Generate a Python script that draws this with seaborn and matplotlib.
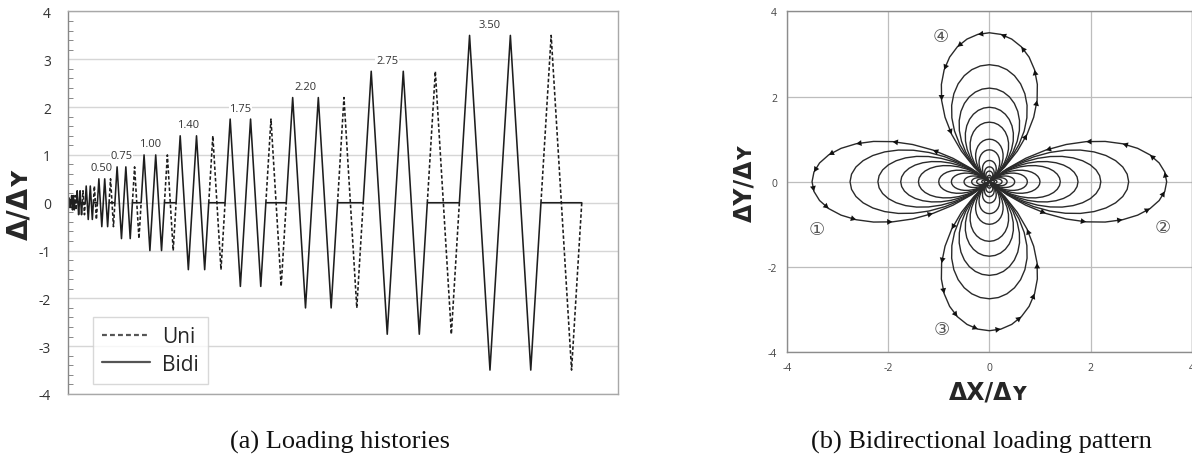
import numpy as np
import pandas as pd
import matplotlib
matplotlib.use("Agg")
import matplotlib.pyplot as plt
from matplotlib.ticker import MultipleLocator
import seaborn as sns

# ---------------- data ----------------
amplitudes = [0.10, 0.15, 0.25, 0.35, 0.50, 0.75, 1.00, 1.40, 1.75, 2.20, 2.75, 3.50]
amp_labels = ["", "", "", "", "0.50", "0.75", "1.00", "1.40", "1.75", "2.20", "2.75", "3.50"]
bidi_cycles = 2          # bidirectional cycles per level
uni_cycles = 1           # unidirectional cycles per level (during the bidi pause)
y_ticks_left = [-4, -3, -2, -1, 0, 1, 2, 3, 4]
ticks_right = [-4, -2, 0, 2, 4]
petal_names = ["①", "②", "③", "④"]
petal_dirs = [180, 0, 270, 90]                      # petal axis direction (deg)
petal_label_pos = [(-3.41, -1.11), (3.42, -1.06), (-0.94, -3.47), (-0.96, 3.42)]
legend_labels = ["Uni", "Bidi"]

# ---------------- style ----------------
sns.set_style("white")
plt.rcParams["font.family"] = ["Open Sans", "DejaVu Sans", "Noto Sans CJK JP"]
plt.rcParams["axes.unicode_minus"] = False
INK = "#1e1e1e"

fig = plt.figure(figsize=(11.92, 4.56), dpi=100)
axL = fig.add_axes([0.0568, 0.1338, 0.4614, 0.8388])
axR = fig.add_axes([0.6600, 0.2259, 0.3400, 0.7467])

# ---------------- (a) loading histories ----------------
rows = []
t = 0.0
rows.append((t, 0.0, "Bidi", "b"))
label_pts = []
for k, A in enumerate(amplitudes):
    q = A  # quarter-cycle duration at constant loading rate
    t0 = t
    for c in range(bidi_cycles):
        rows.append((t + q, A, "Bidi", "b"))
        rows.append((t + 3 * q, -A, "Bidi", "b"))
        rows.append((t + 4 * q, 0.0, "Bidi", "b"))
        t += 4 * q
    for c in range(uni_cycles):
        seg = f"u{k}_{c}"
        rows.append((t, 0.0, "Uni", seg))
        rows.append((t + q, A, "Uni", seg))
        rows.append((t + 3 * q, -A, "Uni", seg))
        rows.append((t + 4 * q, 0.0, "Uni", seg))
        t += 4 * q
        rows.append((t, 0.0, "Bidi", "b"))
    label_pts.append((t0 + 3 * q, A))
total_t = t
hist = pd.DataFrame(rows, columns=["t", "d", "kind", "seg"])

sns.lineplot(data=hist, x="t", y="d", style="kind", units="seg", estimator=None,
             sort=False, style_order=legend_labels,
             dashes={"Uni": (2.2, 1.4), "Bidi": ""}, color=INK, lw=1.15, ax=axL)

for (tx, A), lab in zip(label_pts, amp_labels):
    if lab:
        axL.text(tx, A + 0.23, lab, ha="center", va="center", fontsize=8, color="#333",
                 bbox=dict(facecolor="white", edgecolor="none", pad=0.6))

axL.set_xlim(0, total_t * 551 / 515)
axL.set_ylim(-4, 4)
axL.set_yticks(y_ticks_left)
axL.yaxis.set_minor_locator(MultipleLocator(0.2))
axL.set_xticks([])
axL.grid(axis="y", which="major", color="#d6d6d6", lw=1.0)
axL.set_axisbelow(True)
axL.tick_params(axis="y", which="major", direction="out", length=4, width=0.8,
                color="#888", labelsize=10, labelcolor="#333", pad=8)
axL.tick_params(axis="y", which="minor", direction="in", length=3.5, width=0.7,
                color="#888", left=True)
for s in axL.spines.values():
    s.set_color("#a8a8a8")
    s.set_linewidth(1.0)
axL.spines["left"].set_color("#888")
axL.set_xlabel("")
axL.set_ylabel("Δ/Δʏ", fontsize=20, fontweight="bold", family="DejaVu Sans")
axL.yaxis.set_label_coords(-0.062, 0.5)

h, l = axL.get_legend_handles_labels()
keep = [(hh, ll) for hh, ll in zip(h, l) if ll in legend_labels]
leg = axL.legend([k[0] for k in keep], [k[1] for k in keep], loc="lower left",
                 bbox_to_anchor=(0.046, 0.026), borderaxespad=0, frameon=True,
                 fancybox=False, edgecolor="#cfcfcf", fontsize=15, handlelength=2.3,
                 handletextpad=0.55, labelspacing=0.3, borderpad=0.45)
leg.get_frame().set_linewidth(1.0)
for ln in leg.get_lines():
    ln.set_linewidth(1.6)
    ln.set_color("#555")

# ---------------- (b) bidirectional loading pattern ----------------
phi = np.deg2rad(np.linspace(-45, 45, 25))
prow = []
for A in amplitudes:
    for name, d in zip(petal_names, petal_dirs):
        r = A * np.cos(2 * phi)
        ang = np.deg2rad(d) + phi
        for i, (xx, yy) in enumerate(zip(r * np.cos(ang), r * np.sin(ang))):
            prow.append((xx, yy, f"{A}_{name}", A, i))
pat = pd.DataFrame(prow, columns=["x", "y", "loop", "amp", "i"])

sns.lineplot(data=pat, x="x", y="y", units="loop", estimator=None, sort=False,
             color="#2a2a2a", lw=1.0, ax=axR, legend=False)

axR.set_xlim(-4, 4)
axR.set_ylim(-4, 4)

Amax = max(amplitudes)
outer = pat[pat["amp"] == Amax]
for loop, g in outer.groupby("loop"):
    pts = g.sort_values("i")[["x", "y"]].to_numpy()
    for i in range(3, len(pts) - 2, 2):
        axR.annotate("", xy=pts[i], xytext=pts[i - 1],
                     arrowprops=dict(arrowstyle="-|>,head_length=0.55,head_width=0.3",
                                     color="#111", lw=0.01, shrinkA=0, shrinkB=0,
                                     mutation_scale=7))

for name, (px, py) in zip(petal_names, petal_label_pos):
    axR.text(px, py, name, ha="center", va="center", fontsize=13, color="#555",
             family=["DejaVu Sans", "Noto Sans CJK JP"])

axR.set_xticks(ticks_right)
axR.set_yticks(ticks_right)
axR.grid(True, color="#bdbdbd", lw=0.9)
axR.set_axisbelow(True)
axR.tick_params(direction="out", length=3.5, width=0.8, color="#888",
                labelsize=7.5, labelcolor="#444")
for s in axR.spines.values():
    s.set_color("#8c8c8c")
    s.set_linewidth(1.0)
axR.set_xlabel("ΔX/Δʏ", fontsize=17, fontweight="bold", family="DejaVu Sans", labelpad=5)
axR.set_ylabel("ΔY/Δʏ", fontsize=17, fontweight="bold", family="DejaVu Sans", labelpad=8)

# ---------------- captions ----------------
fig.text(0.285, 0.030, "(a) Loading histories", ha="center", va="center",
         fontsize=19, family="Liberation Serif", color="#111")
fig.text(0.8234, 0.030, "(b) Bidirectional loading pattern", ha="center", va="center",
         fontsize=19, family="Liberation Serif", color="#111")

fig.savefig("out.png", dpi=100)
